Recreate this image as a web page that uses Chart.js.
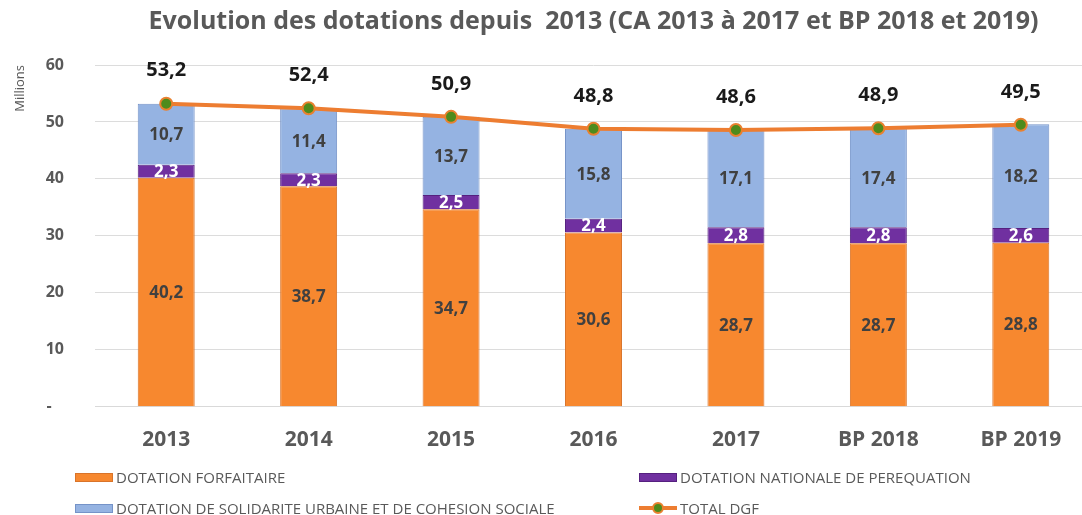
<!DOCTYPE html>
<html>
<head>
<meta charset="utf-8">
<script src="https://cdn.jsdelivr.net/npm/chart.js@4.4.1/dist/chart.umd.min.js"></script>
<style>
  html, body { margin:0; padding:0; background:#fff; overflow:hidden; width:1082px; height:515px; }
  #wrap { position:absolute; left:0; top:0; width:1100px; height:515px; }
  .leg { position:absolute; display:flex; align-items:center; font-family:"Open Sans", sans-serif; font-size:15px; color:#595959; white-space:nowrap; }
  .leg .sw { width:38px; height:9px; margin-right:3px; box-sizing:border-box; position:relative; }
</style>
</head>
<body>
<div id="wrap"><canvas id="chart" width="1100" height="515"></canvas></div>
<div id="legend"></div>
<script>
// Data
const years = ['2013', '2014', '2015', '2016', '2017', 'BP 2018', 'BP 2019'];
const forfaitaire = [40.2, 38.7, 34.7, 30.6, 28.7, 28.7, 28.8];
const perequation = [2.3, 2.3, 2.5, 2.4, 2.8, 2.8, 2.6];
const solidarite = [10.7, 11.4, 13.7, 15.8, 17.1, 17.4, 18.2];
const totalDgf = [53.2, 52.4, 50.9, 48.8, 48.6, 48.9, 49.5];
const yTicks = [0, 10, 20, 30, 40, 50, 60];

const fmt = v => v.toFixed(1).replace('.', ',');

// draws the values inside segments and above the line
const valueLabels = {
    id: 'valueLabels',
    afterDatasetsDraw(chart) {
        const ctx = chart.ctx;
        ctx.save();
        ctx.textAlign = 'center';
        ctx.textBaseline = 'middle';
        chart.data.datasets.forEach((ds, i) => {
            const meta = chart.getDatasetMeta(i);
            meta.data.forEach((el, j) => {
                const v = ds.data[j];
                if (ds.type === 'line') {
                    ctx.font = 'bold 20px "Open Sans", sans-serif';
                    ctx.fillStyle = '#1a1a1a';
                    ctx.fillText(fmt(v), el.x, el.y - 33);
                } else {
                    const mid = (el.y + el.base) / 2;
                    ctx.font = 'bold 17px "Open Sans", sans-serif';
                    ctx.fillStyle = ds.labelColor;
                    ctx.fillText(fmt(v), el.x, mid + 1);
                }
            });
        });
        ctx.restore();
    }
};

const ctx = document.getElementById('chart').getContext('2d');
const myChart = new Chart(ctx, {
    data: {
        labels: years,
        datasets: [
            { type:'line', label:'TOTAL DGF', data: totalDgf, stack:'total', order:0,
              borderColor:'#ED7D31', borderWidth:4, pointRadius:6, pointBackgroundColor:'#4E8B1C',
              pointBorderColor:'#E9812F', pointBorderWidth:2, tension:0 },
            { type:'bar', label:'DOTATION FORFAITAIRE', data: forfaitaire, stack:'dot', order:1,
              backgroundColor:'#F7882F', borderColor:'#D9742A', borderWidth:1, labelColor:'#404040' },
            { type:'bar', label:'DOTATION NATIONALE DE PEREQUATION', data: perequation, stack:'dot', order:1,
              backgroundColor:'#7030A0', borderColor:'#55207F', borderWidth:1, labelColor:'#ffffff' },
            { type:'bar', label:'DOTATION DE SOLIDARITE URBAINE ET DE COHESION SOCIALE', data: solidarite, stack:'dot', order:1,
              backgroundColor:'#95B3E2', borderColor:'#7593C8', borderWidth:1, labelColor:'#404040' }
        ]
    },
    options: {
        responsive: false,
        animation: false,
        datasets: { bar: { categoryPercentage: 1, barPercentage: 0.4 } },
        layout: { padding: { left: 0, right: 0, top: 0, bottom: 41 } },
        plugins: {
            legend: { display: false },
            tooltip: { enabled: false },
            title: {
                display: true, fullSize: false,
                text: 'Evolution des dotations depuis  2013 (CA 2013 à 2017 et BP 2018 et 2019)',
                color: '#595959', font: { family: '"Open Sans", sans-serif', size: 25, weight: 'bold' },
                padding: { top: 7, bottom: 28 }
            }
        },
        scales: {
            x: {
                stacked: true,
                grid: { display: false, drawTicks: false },
                border: { color: '#d9d9d9' },
                ticks: { color: '#595959', font: { family: '"Open Sans", sans-serif', size: 21, weight: 'bold' }, padding: 21 }
            },
            y: {
                stacked: true, min: 0, max: 60,
                afterBuildTicks: s => { s.ticks = yTicks.map(v => ({ value: v })); },
                afterFit: s => { s.width = 95; },
                grid: { color: '#dcdcdc', drawTicks: false },
                border: { display: false },
                ticks: { color: '#595959', padding: 31, font: { family: '"Open Sans", sans-serif', size: 16, weight: 'bold' },
                         callback: v => v === 0 ? '-   ' : v },
                title: { display: true, text: 'Millions', align: 'end', color: '#595959',
                         font: { family: '"Open Sans", sans-serif', size: 13 }, padding: { top: 12 } }
            }
        }
    },
    plugins: [valueLabels]
});

// HTML legend in two columns
const legendPos = [
    { label: 'DOTATION FORFAITAIRE', x: 75, y: 477 },
    { label: 'DOTATION NATIONALE DE PEREQUATION', x: 639, y: 477 },
    { label: 'DOTATION DE SOLIDARITE URBAINE ET DE COHESION SOCIALE', x: 75, y: 508 },
    { label: 'TOTAL DGF', x: 639, y: 508 }
];
const legendBox = document.getElementById('legend');
legendPos.forEach(p => {
    const ds = myChart.data.datasets.find(d => d.label === p.label);
    let sw;
    if (ds.type === 'line') {
        sw = `<div class="sw" style="height:14px"><div style="position:absolute;left:0;right:0;top:5px;height:4px;background:${ds.borderColor}"></div>
              <div style="position:absolute;left:13px;top:1px;width:8px;height:8px;border-radius:50%;background:${ds.pointBackgroundColor};border:2px solid ${ds.pointBorderColor}"></div></div>`;
    } else {
        sw = `<div class="sw" style="background:${ds.backgroundColor};border:1px solid ${ds.borderColor}"></div>`;
    }
    legendBox.innerHTML += `<div class="leg" style="left:${p.x}px;top:${p.y - 10}px;height:20px">${sw}<span>${ds.label}</span></div>`;
});
</script>
</body>
</html>
